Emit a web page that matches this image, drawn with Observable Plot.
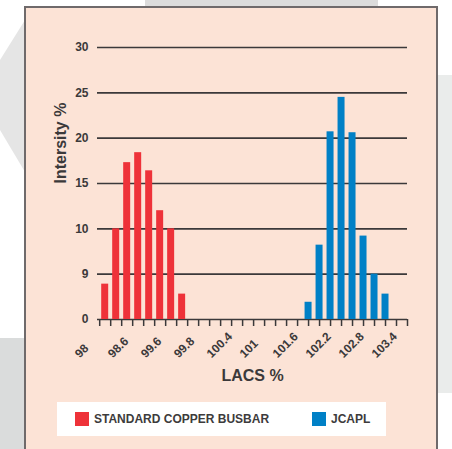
<!DOCTYPE html>
<html>
<head>
<meta charset="utf-8">
<script src="https://cdn.jsdelivr.net/npm/d3@7"></script>
<script src="https://cdn.jsdelivr.net/npm/@observablehq/plot@0.6"></script>
<style>
html, body { margin: 0; padding: 0; background: #ffffff; }
body { width: 452px; height: 449px; overflow: hidden; position: relative; font-family: "Liberation Sans", Arial, sans-serif; }
.deco { position: absolute; }
#panel { position: absolute; left: 24px; top: 6px; width: 414px; height: 470px; box-sizing: border-box; background: #fce3d6; border: 2px solid #6f6a6b; }
#chart { position: absolute; left: 0; top: 0; }
#legend { position: absolute; left: 57px; top: 402px; width: 329px; height: 34px; background: #ffffff; }
.sw { position: absolute; top: 10px; width: 14px; height: 14px; }
.lt { position: absolute; top: 10px; line-height: 14px; font-size: 12px; font-weight: bold; color: #3d3b3c; white-space: nowrap; }
#chart svg [aria-label^="x-axis"] line, #chart svg [aria-label^="x-axis"] path { stroke-width: 1.5px; }
</style>
</head>
<body>
<div class="deco" style="left:145px;top:0;width:233px;height:6px;background:#dcdcdc"></div>
<div class="deco" style="left:0;top:20px;width:25px;height:152px;background:#e5e5e5;clip-path:polygon(0 40px,25px 0,25px 152px,0 110px)"></div>
<div class="deco" style="left:0;top:338px;width:25px;height:111px;background:#dadcdc"></div>
<div class="deco" style="left:438px;top:75px;width:14px;height:318px;background:#eaeceb"></div>
<div id="panel"></div>
<div id="chart"></div>
<div id="legend">
  <div class="sw" style="left:18px;background:#ee3239"></div>
  <div class="lt" style="left:37px">STANDARD COPPER BUSBAR</div>
  <div class="sw" style="left:255px;background:#0080c6"></div>
  <div class="lt" style="left:274px">JCAPL</div>
</div>
<script>
// ---- data ----
const seriesNames = ["STANDARD COPPER BUSBAR", "JCAPL"];
const seriesColors = ["#ee3239", "#0080c6"];
const binWidth = 0.2;
const standardX = [98.1, 98.3, 98.5, 98.7, 98.9, 99.1, 99.3, 99.5];
const standardValues = [3.9, 10, 17.3, 18.4, 16.4, 12, 10, 2.8];
const jcaplX = [101.8, 102.0, 102.2, 102.4, 102.6, 102.8, 103.0, 103.2];
const jcaplValues = [1.9, 8.2, 20.7, 24.5, 20.6, 9.2, 5, 2.8];
const yTickValues = [0, 5, 10, 15, 20, 25, 30];
const yTickLabels = ["0", "9", "10", "15", "20", "25", "30"];
const xLabelValues = [98, 98.6, 99.2, 99.8, 100.4, 101, 101.6, 102.2, 102.8, 103.4];
const xTickLabels = ["98", "98.6", "99.6", "99.8", "100.4", "101", "101.6", "102.2", "102.8", "103.4"];
const xTickMarks = d3.range(0, 29).map(i => +(98 + i * 0.2).toFixed(1));
const xTitle = "LACS %";
const yTitle = "Intersity %";

const rows = [
  ...standardX.map((x, i) => ({x, value: standardValues[i], series: seriesNames[0]})),
  ...jcaplX.map((x, i) => ({x, value: jcaplValues[i], series: seriesNames[1]}))
];

const chart = Plot.plot({
  width: 452,
  height: 395,
  marginLeft: 97,
  marginRight: 45,
  marginTop: 47,
  marginBottom: 76,
  style: {background: "transparent", color: "#3b393a", fontFamily: "Liberation Sans, Arial, sans-serif", fontSize: "12px", fontWeight: "bold", overflow: "visible"},
  x: {domain: [97.96, 103.6], ticks: xTickMarks, tickFormat: () => "", tickSize: 7, label: null},
  y: {domain: [0, 30], ticks: yTickValues, tickFormat: d => yTickLabels[yTickValues.indexOf(d)], tickSize: 0, tickPadding: 9, label: null},
  color: {domain: seriesNames, range: seriesColors},
  marks: [
    Plot.ruleY(yTickValues, {y: d => d, stroke: "#3b393a", strokeWidth: 1.6}),
    Plot.rect(rows, {x1: d => d.x - binWidth / 2, x2: d => d.x + binWidth / 2, y1: 0, y2: "value", fill: "series", insetLeft: 2, insetRight: 2}),
    Plot.text(xLabelValues, {x: d => d, text: (d, i) => xTickLabels[i], frameAnchor: "bottom", rotate: -45, textAnchor: "start", lineAnchor: "bottom", dx: -20, dy: 39, fontSize: 12, fontWeight: "bold", fill: "#3b393a"}),
    Plot.text([yTitle], {frameAnchor: "left", dx: -37, rotate: -90, fontSize: 16, fontWeight: "bold", fill: "#3b393a"}),
    Plot.text([xTitle], {frameAnchor: "bottom", dy: 61, fontSize: 16, fontWeight: "bold", fill: "#3b393a"})
  ]
});
document.getElementById("chart").appendChild(chart);
</script>
</body>
</html>
